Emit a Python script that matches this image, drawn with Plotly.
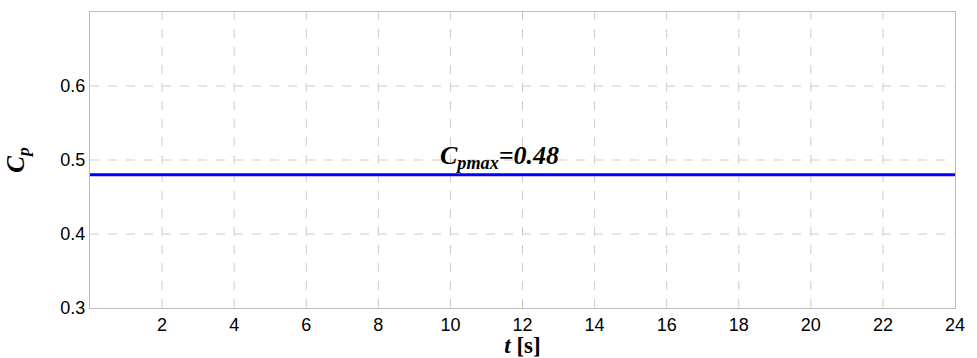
import plotly.graph_objects as go

t = [0, 24]
cp = [0.48, 0.48]
x_ticks = [2, 4, 6, 8, 10, 12, 14, 16, 18, 20, 22, 24]
y_ticks = [0.3, 0.4, 0.5, 0.6]
grid_x = x_ticks[:-1]
grid_y = [0.4, 0.5, 0.6]

fig = go.Figure()
fig.add_trace(go.Scatter(x=t, y=cp, mode="lines", line=dict(color="#0000ff", width=3), showlegend=False))

fig.add_annotation(x=11.35, y=0.48, yshift=18, text="<b><i>C<sub>pmax</sub>=0.48</i></b>",
                   showarrow=False, font=dict(family="Liberation Serif", size=26, color="black"))

for gx in grid_x:
    fig.add_shape(type="line", x0=gx, x1=gx, y0=0.3, y1=0.7, line=dict(color="#cccccc", width=1, dash="dash"), layer="below")
for gy in grid_y:
    fig.add_shape(type="line", x0=0, x1=24, y0=gy, y1=gy, line=dict(color="#cccccc", width=1, dash="dash"), layer="below")

fig.update_layout(
    width=977, height=358, margin=dict(l=90, r=22, t=12, b=50),
    plot_bgcolor="white", paper_bgcolor="white",
    xaxis=dict(range=[0, 24], tickvals=x_ticks, showgrid=False, zeroline=False, automargin=False,
               showline=True, mirror=True, linecolor="#bbbbbb", linewidth=1,
               ticks="", tickfont=dict(family="Liberation Sans", size=18, color="black"),
               title=dict(text="<b><i>t</i> [s]</b>", font=dict(family="Liberation Serif", size=23, color="black"), standoff=0)),
    yaxis=dict(range=[0.3, 0.7], tickvals=y_ticks, ticktext=["0.3", "0.4", "0.5", "0.6"], showgrid=False, zeroline=False, automargin=False,
               showline=True, mirror=True, linecolor="#bbbbbb", linewidth=1,
               ticks="", tickfont=dict(family="Liberation Sans", size=18, color="black"),
               title=dict(text="<b><i>C<sub>p</sub></i></b>", font=dict(family="Liberation Serif", size=25, color="black"), standoff=28)),
)
fig.write_html("out.html")
